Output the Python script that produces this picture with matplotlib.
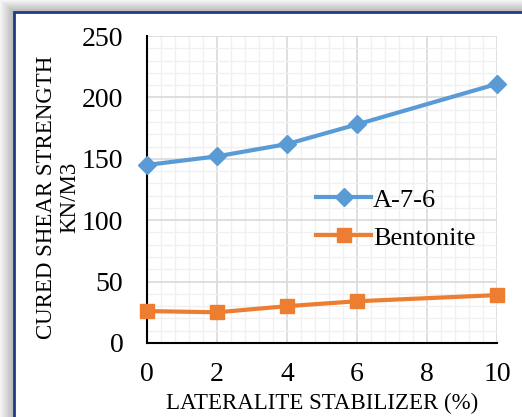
import numpy as np
import matplotlib
matplotlib.use("Agg")
import matplotlib.pyplot as plt
from matplotlib.patches import Rectangle
from matplotlib.ticker import MultipleLocator

# stabilizer content (%) and cured shear strength (kN/m3)
stabilizer = [0, 2, 4, 6, 10]
a76 = [145, 152, 162, 178, 211]
bentonite = [26, 25, 30, 34, 39]

plt.rcParams['font.family'] = ['Liberation Serif', 'DejaVu Serif']

fig = plt.figure(figsize=(5.22, 4.17), dpi=100)

# soft gray shadow behind the white panel
bg = fig.add_axes([0, 0, 1, 1], zorder=-10)
h, w = 417, 522
yy, xx = np.mgrid[0:h, 0:w]
d = np.minimum(np.clip(yy / 12.0, 0, 1), np.clip(xx / 14.0, 0, 1))
shade = 0.96 - 0.26 * d
bg.imshow(np.dstack([shade] * 3), extent=[0, 1, 0, 1], aspect='auto', origin='upper')
bg.add_patch(Rectangle((14 / w, -0.1), 1.1, 1.1 - 12 / h, transform=bg.transAxes,
                       facecolor='white', edgecolor='#1f3c88', linewidth=2.0))
bg.set_xlim(0, 1)
bg.set_ylim(0, 1)
bg.axis('off')

ax = fig.add_axes([147 / w, 1 - 343 / h, 350 / w, 307 / h])
ax.set_facecolor('none')

ax.plot(stabilizer, a76, color='#5b9bd5', linewidth=3, marker='D', markersize=9,
        label='A-7-6', zorder=3, clip_on=False)
ax.plot(stabilizer, bentonite, color='#ed7d31', linewidth=3, marker='s', markersize=10,
        label='Bentonite', zorder=3, clip_on=False)

ax.set_xlim(0, 10)
ax.set_ylim(0, 250)
ax.xaxis.set_major_locator(MultipleLocator(2))
ax.xaxis.set_minor_locator(MultipleLocator(0.4))
ax.yaxis.set_major_locator(MultipleLocator(50))
ax.yaxis.set_minor_locator(MultipleLocator(10))
ax.grid(which='major', color='#d9d9d9', linewidth=1.2)
ax.grid(which='minor', color='#f0f0f0', linewidth=1.0)
ax.set_axisbelow(True)

for s in ['top', 'right']:
    ax.spines[s].set_visible(False)
for s in ['left', 'bottom']:
    ax.spines[s].set_linewidth(1.5)
    ax.spines[s].set_color('black')

ax.tick_params(which='both', length=0, labelsize=20)
ax.tick_params(axis='x', pad=14)
ax.tick_params(axis='y', pad=17)

ax.set_xlabel('LATERALITE STABILIZER (%)', fontsize=16.5, labelpad=4)
ax.set_ylabel('CURED SHEAR STRENGTH\nKN/M3', fontsize=16.5, labelpad=1, linespacing=1.15)
ax.yaxis.label.set_y(0.475)

ax.legend(loc='center left', bbox_to_anchor=(0.454, 0.404), frameon=False, fontsize=19,
          handlelength=2.05, handletextpad=0.1, labelspacing=0.55, borderaxespad=0)

fig.savefig('out.png', dpi=100)
